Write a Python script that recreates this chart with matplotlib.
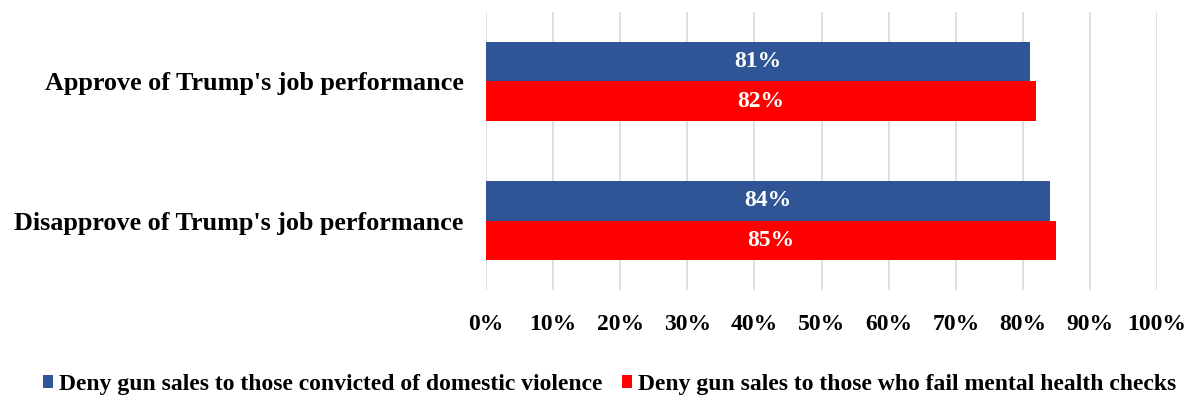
import matplotlib
matplotlib.use("Agg")
import matplotlib.pyplot as plt
import numpy as np

plt.rcParams['font.family'] = ['Liberation Serif', 'DejaVu Serif']
plt.rcParams['font.weight'] = 'bold'

categories = ["Approve of Trump's job performance",
              "Disapprove of Trump's job performance"]
series_names = ["Deny gun sales to those convicted of domestic violence",
                "Deny gun sales to those who fail mental health checks"]
domestic_violence = [81, 84]
mental_health = [82, 85]
colors = ['#2F5597', '#FF0000']

fig = plt.figure(figsize=(11.93, 3.98), dpi=100)
ax = fig.add_axes([0.4074, 0.271, 0.5625, 0.699])

y = np.arange(len(categories))
h = 0.286
for vals, off, col, name in [(domestic_violence, -h / 2, colors[0], series_names[0]),
                             (mental_health, h / 2, colors[1], series_names[1])]:
    bars = ax.barh(y + off, vals, height=h, color=col, label=name, zorder=3)
    for b, v in zip(bars, vals):
        ax.text(v / 2, b.get_y() + b.get_height() / 2, f"{v}%", ha='center', va='center',
                color='white', fontsize=17, fontweight='bold', zorder=4)

ax.set_xlim(0, 100)
ax.set_ylim(1.5, -0.5)
ax.set_xticks(np.arange(0, 101, 10))
ax.set_xticklabels([f"{t}%" for t in range(0, 101, 10)], fontsize=17)
ax.set_yticks(y)
ax.set_yticklabels(categories, fontsize=18.8)
ax.tick_params(axis='x', length=0, pad=17)
ax.tick_params(axis='y', length=0, pad=16)
ax.grid(axis='x', color='#D9D9D9', linewidth=1.2, zorder=0)
for s in ax.spines.values():
    s.set_visible(False)

fig.legend(loc='lower center', bbox_to_anchor=(0.511, -0.045), ncol=2, frameon=False,
           fontsize=17.0, handlelength=0.45, handleheight=0.45, handletextpad=0.25,
           columnspacing=0.8)

fig.savefig('out.png', dpi=100)
